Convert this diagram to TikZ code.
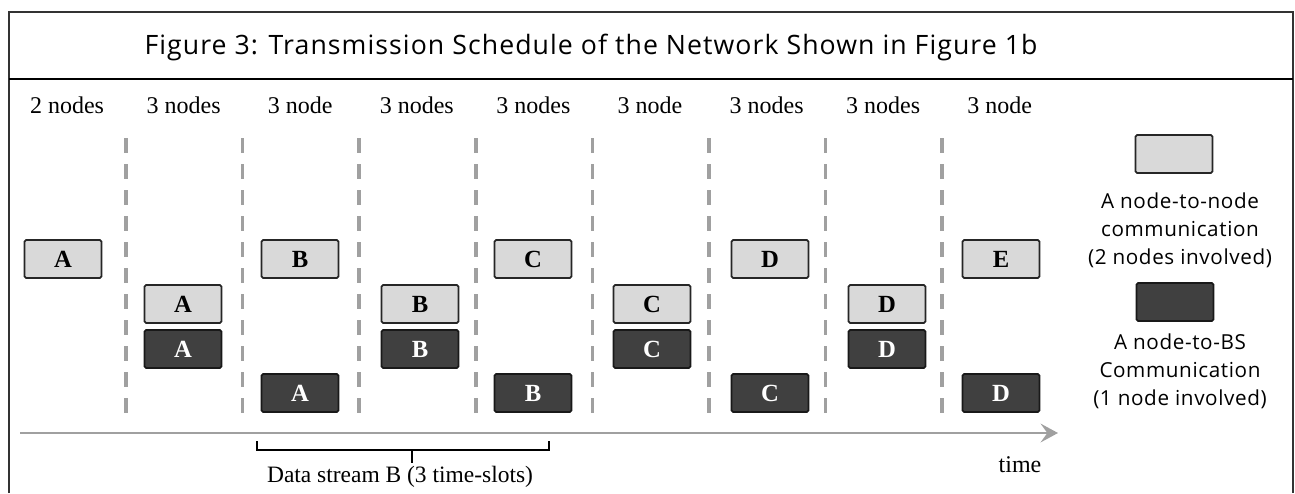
\documentclass[tikz,border=0pt]{standalone}
\usepackage{fontspec}
\setmainfont{Liberation Serif}
\newfontfamily\legendfont[LetterSpace=3]{Open Sans}
\newfontfamily\titlefont[LetterSpace=4]{Open Sans}
\usetikzlibrary{arrows.meta}

\definecolor{slotlight}{HTML}{D9D9D9}
\definecolor{slotdark}{HTML}{404040}
\definecolor{slotline}{HTML}{A0A0A0}

\tikzset{
  slot/.style={minimum width=57.75pt, minimum height=28.5pt, inner sep=0pt,
    line width=1.3pt, rounded corners=1.2pt,
    font=\bfseries\fontsize{18.5}{18.5}\selectfont},
  lightslot/.style={slot, draw=black!85, fill=slotlight},
  darkslot/.style={slot, draw=black!90, fill=slotdark, text=white},
  header/.style={font=\fontsize{18}{18}\selectfont, inner sep=0pt},
  legendtext/.style={font=\legendfont\fontsize{15.5}{21}\selectfont, align=center, inner sep=0pt},
  divider/.style={slotline, line width=2.6pt, dash pattern=on 11pt off 8.5pt},
}

\begin{document}
\begin{tikzpicture}[x=0.75pt, y=-0.75pt]
  \useasboundingbox (0,0) rectangle (1295,493);
  % frame and title row
  \draw[line width=1.1pt, black!80] (9,493) -- (9,12) -- (1293,12) -- (1293,493);
  \draw[line width=2pt] (9,79) -- (1293,79);
  \node[font=\titlefont\fontsize{20}{20}\selectfont, inner sep=0pt] (title) at (591,47)
    {Figure 3: Transmission Schedule of the Network Shown in Figure 1b};

  % time-slot headers
  \foreach \lab [count=\k] in {2 nodes,3 nodes,3 node,3 nodes,3 nodes,3 node,3 nodes,3 nodes,3 node}
    \node[header] (head\k) at ({67+116.6*(\k-1)},105) {\lab};

  % slot dividers
  \foreach \i in {0,...,7}
    \draw[divider] ({126+116.6*\i},138) -- ({126+116.6*\i},420);

  % transmissions
  \foreach \x/\y/\s/\l [count=\n] in {
      63/259/lightslot/A,
      183/304/lightslot/A, 183/349/darkslot/A,
      300/259/lightslot/B, 300/393/darkslot/A,
      420/304/lightslot/B, 420/349/darkslot/B,
      533/259/lightslot/C, 533/393/darkslot/B,
      652/304/lightslot/C, 652/349/darkslot/C,
      770/259/lightslot/D, 770/393/darkslot/C,
      887/304/lightslot/D, 887/349/darkslot/D,
      1001/259/lightslot/E, 1001/393/darkslot/D}
    \node[\s] (tx\n) at (\x,\y) {\l};

  % time axis
  \coordinate (t0) at (20,433);
  \coordinate (t1) at (1058,433);
  \draw[slotline, line width=2.2pt, -{Stealth[length=13pt, width=14pt, inset=5pt]}] (t0) -- (t1);
  \node[header] (time) at (1020,465) {time};

  % data stream B
  \coordinate (bl) at (257,441);
  \coordinate (br) at (549,441);
  \coordinate (bm) at (412,450);
  \coordinate (bt) at (412,463);
  \draw[line width=1.6pt] (bl) -- (bl |- bm) -- (br |- bm) -- (br);
  \draw[line width=1.6pt] (bm) -- (bt);
  \node[header, font=\fontsize{17.6}{17.6}\selectfont] (stream) at (400,477) {Data stream B (3 time-slots)};

  % legend
  \node[lightslot] (key1) at (1174,154) {};
  \node[legendtext] (keytext1) at (1180,230) {A node-to-node\\communication\\(2 nodes involved)};
  \node[darkslot] (key2) at (1175,302) {};
  \node[legendtext] (keytext2) at (1180,371) {A node-to-BS\\Communication\\(1 node involved)};
\end{tikzpicture}
\end{document}
